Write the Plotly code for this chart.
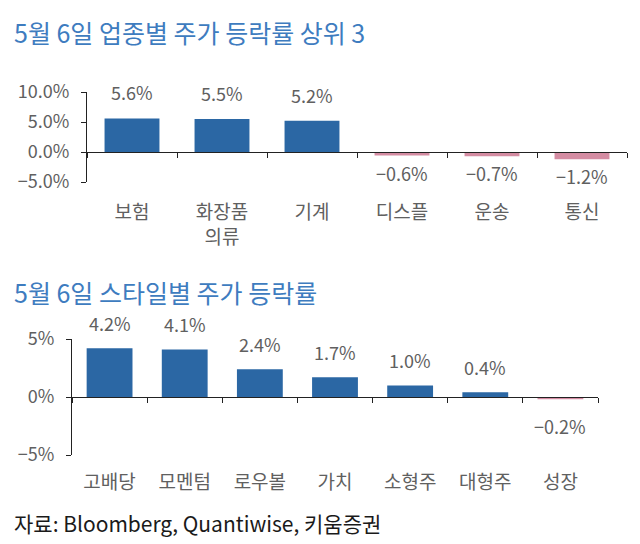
import plotly.graph_objects as go

# ---- data ----
top_title = "5월 6일 업종별 주가 등락률 상위 3"
top_categories = ["보험", "화장품<br>의류", "기계", "디스플", "운송", "통신"]
top_values = [5.6, 5.5, 5.2, -0.6, -0.7, -1.2]
top_yticks = [-5, 0, 5, 10]
top_yticklabels = ["−5.0%", "0.0%", "5.0%", "10.0%"]

bot_title = "5월 6일 스타일별 주가 등락률"
bot_categories = ["고배당", "모멘텀", "로우볼", "가치", "소형주", "대형주", "성장"]
bot_values = [4.2, 4.1, 2.4, 1.7, 1.0, 0.4, -0.2]
bot_yticks = [-5, 0, 5]
bot_yticklabels = ["−5%", "0%", "5%"]

source_text = "자료: Bloomberg, Quantiwise, 키움증권"

# ---- style ----
FONT = "Noto Sans CJK KR"
POS = "#2b67a4"
NEG = "#d48ca2"
TICK = "#606060"
TITLE = "#3e7cbf"
W, H = 640, 544
OFF = 8  # page body margin


def fmt(v, d):
    s = f"{abs(v):.{d}f}%"
    return ("−" + s) if v < 0 else s


def px_x(p):
    return (p - OFF) / W


def px_y(p):
    return 1 - (p - OFF) / H


fig = go.Figure()

fig.add_trace(go.Bar(
    x=top_categories, y=top_values,
    marker=dict(color=[POS if v >= 0 else NEG for v in top_values], line=dict(width=0)),
    xaxis="x", yaxis="y", hoverinfo="skip",
))
fig.add_trace(go.Bar(
    x=bot_categories, y=bot_values,
    marker=dict(color=[POS if v >= 0 else NEG for v in bot_values], line=dict(width=0)),
    xaxis="x2", yaxis="y2", hoverinfo="skip",
))

annotations = []
for c, v in zip(top_categories, top_values):
    annotations.append(dict(
        x=c, y=v, xref="x", yref="y", text=fmt(v, 1), showarrow=False,
        yanchor="bottom" if v >= 0 else "top", yshift=11 if v >= 0 else -2,
        font=dict(family=FONT, size=18, color=TICK),
    ))
for c, v in zip(bot_categories, bot_values):
    annotations.append(dict(
        x=c, y=v, xref="x2", yref="y2", text=fmt(v, 1), showarrow=False,
        yanchor="bottom" if v >= 0 else "top", yshift=10 if v >= 0 else -12,
        font=dict(family=FONT, size=18, color=TICK),
    ))

annotations += [
    dict(x=px_x(12), y=px_y(32), xref="paper", yref="paper", text=top_title,
         showarrow=False, xanchor="left", yanchor="middle",
         font=dict(family=FONT, size=25, color=TITLE)),
    dict(x=px_x(12), y=px_y(292), xref="paper", yref="paper", text=bot_title,
         showarrow=False, xanchor="left", yanchor="middle",
         font=dict(family=FONT, size=25, color=TITLE)),
    dict(x=px_x(12), y=px_y(523), xref="paper", yref="paper", text=source_text,
         showarrow=False, xanchor="left", yanchor="middle",
         font=dict(family=FONT, size=21, color="#1a1a1a")),
]

xcommon = dict(
    type="category", showline=True, linecolor="#222", linewidth=1,
    ticks="outside", tickson="boundaries", ticklen=5, tickcolor="#222",
    showgrid=False, zeroline=False, fixedrange=True, automargin=False,
    tickfont=dict(family=FONT, size=19, color=TICK),
)
ycommon = dict(
    showline=True, linecolor="#222", linewidth=1, ticks="outside", ticklen=5,
    tickcolor="#222", showgrid=False, zeroline=False, fixedrange=True,
    automargin=False, ticklabelstandoff=8,
    tickfont=dict(family=FONT, size=18, color=TICK),
)

fig.update_layout(
    width=W, height=H, margin=dict(l=0, r=0, t=0, b=0, autoexpand=False),
    paper_bgcolor="white", plot_bgcolor="white", showlegend=False,
    bargap=0.39,
    xaxis=dict(xcommon, domain=[px_x(87), px_x(627)], anchor="free",
               position=px_y(152), ticklabelstandoff=43),
    yaxis=dict(ycommon, domain=[px_y(182), px_y(92)], range=[-5, 10],
               tickvals=top_yticks, ticktext=top_yticklabels, anchor="x"),
    xaxis2=dict(xcommon, domain=[px_x(72), px_x(598)], anchor="free",
                position=px_y(397), ticklabelstandoff=68),
    yaxis2=dict(ycommon, domain=[px_y(455), px_y(339)], range=[-5, 5],
                tickvals=bot_yticks, ticktext=bot_yticklabels, anchor="x2"),
    annotations=annotations,
)

fig.write_html("out.html")
